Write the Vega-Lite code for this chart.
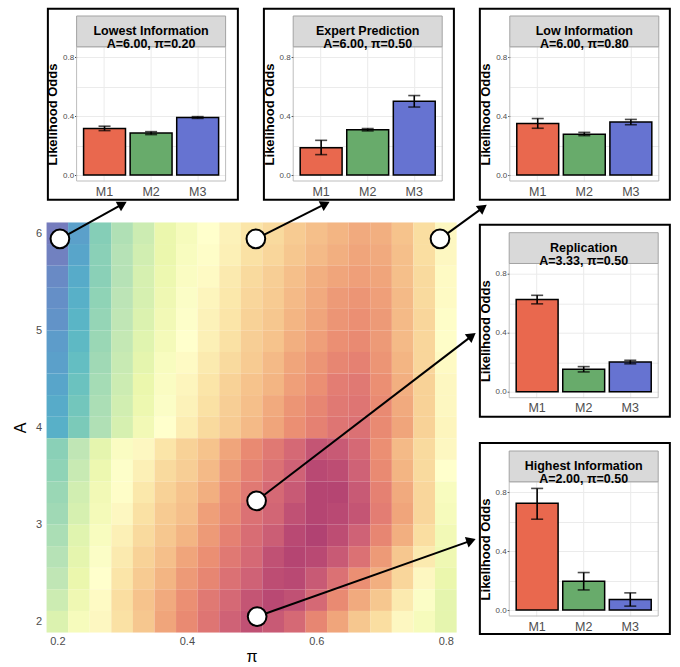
{
  "$schema": "https://vega.github.io/schema/vega-lite/v6.json",
  "padding": {"left": 8, "top": 7, "right": 0, "bottom": 0},
  "background": "white",
  "config": {"font": "Liberation Sans", "view": {"stroke": null}},
  "datasets": {
    "lowest": [
      {"model": "M1", "odds": 0.317, "lo": 0.302, "hi": 0.332},
      {"model": "M2", "odds": 0.285, "lo": 0.275, "hi": 0.295},
      {"model": "M3", "odds": 0.391, "lo": 0.385, "hi": 0.397}
    ],
    "expert": [
      {"model": "M1", "odds": 0.186, "lo": 0.139, "hi": 0.236},
      {"model": "M2", "odds": 0.308, "lo": 0.300, "hi": 0.316},
      {"model": "M3", "odds": 0.502, "lo": 0.462, "hi": 0.540}
    ],
    "low": [
      {"model": "M1", "odds": 0.350, "lo": 0.318, "hi": 0.384},
      {"model": "M2", "odds": 0.278, "lo": 0.268, "hi": 0.290},
      {"model": "M3", "odds": 0.360, "lo": 0.342, "hi": 0.378}
    ],
    "replication": [
      {"model": "M1", "odds": 0.626, "lo": 0.597, "hi": 0.655},
      {"model": "M2", "odds": 0.153, "lo": 0.135, "hi": 0.171},
      {"model": "M3", "odds": 0.203, "lo": 0.190, "hi": 0.214}
    ],
    "highest": [
      {"model": "M1", "odds": 0.725, "lo": 0.617, "hi": 0.826},
      {"model": "M2", "odds": 0.196, "lo": 0.137, "hi": 0.255},
      {"model": "M3", "odds": 0.072, "lo": 0.027, "hi": 0.117}
    ],
    "frames": [
      {"inset": "Lowest Information", "p0": 0.1853, "p1": 0.4788, "a0": 6.3449, "a1": 8.3126},
      {"inset": "Expert Prediction", "p0": 0.5190, "p1": 0.8125, "a0": 6.3449, "a1": 8.3126},
      {"inset": "Low Information", "p0": 0.8526, "p1": 1.1461, "a0": 6.3449, "a1": 8.3126},
      {"inset": "Replication", "p0": 0.8526, "p1": 1.1461, "a0": 4.1095, "a1": 6.0874},
      {"inset": "Highest Information", "p0": 0.8526, "p1": 1.1461, "a0": 1.8740, "a1": 3.8416}
    ],
    "arrows": [
      {"inset": "Lowest Information", "p0": 0.2039, "a0": 5.943, "p1": 0.3006, "a1": 6.300, "heading": -29},
      {"inset": "Expert Prediction", "p0": 0.5066, "a0": 5.943, "p1": 0.6140, "a1": 6.302, "heading": -27},
      {"inset": "Low Information", "p0": 0.7910, "a0": 5.943, "p1": 0.8573, "a1": 6.264, "heading": -36},
      {"inset": "Replication", "p0": 0.5077, "a0": 3.245, "p1": 0.8403, "a1": 4.944, "heading": -37.5},
      {"inset": "Highest Information", "p0": 0.5086, "a0": 2.053, "p1": 0.8392, "a1": 2.835, "heading": -19.6}
    ],
    "heat": [
      {"pi":0.2,"A":6,"info":0.02},{"pi":0.2333,"A":6,"info":0.10},{"pi":0.2667,"A":6,"info":0.20},{"pi":0.3,"A":6,"info":0.28},{"pi":0.3333,"A":6,"info":0.34},{"pi":0.3667,"A":6,"info":0.40},{"pi":0.4,"A":6,"info":0.45},{"pi":0.4333,"A":6,"info":0.50},{"pi":0.4667,"A":6,"info":0.55},{"pi":0.5,"A":6,"info":0.60},{"pi":0.5333,"A":6,"info":0.63},{"pi":0.5667,"A":6,"info":0.67},{"pi":0.6,"A":6,"info":0.70},{"pi":0.6333,"A":6,"info":0.72},{"pi":0.6667,"A":6,"info":0.74},{"pi":0.7,"A":6,"info":0.73},{"pi":0.7333,"A":6,"info":0.69},{"pi":0.7667,"A":6,"info":0.62},{"pi":0.8,"A":6,"info":0.53},
      {"pi":0.2,"A":5.7778,"info":0.03},{"pi":0.2333,"A":5.7778,"info":0.11},{"pi":0.2667,"A":5.7778,"info":0.21},{"pi":0.3,"A":5.7778,"info":0.29},{"pi":0.3333,"A":5.7778,"info":0.35},{"pi":0.3667,"A":5.7778,"info":0.40},{"pi":0.4,"A":5.7778,"info":0.46},{"pi":0.4333,"A":5.7778,"info":0.51},{"pi":0.4667,"A":5.7778,"info":0.56},{"pi":0.5,"A":5.7778,"info":0.61},{"pi":0.5333,"A":5.7778,"info":0.64},{"pi":0.5667,"A":5.7778,"info":0.68},{"pi":0.6,"A":5.7778,"info":0.71},{"pi":0.6333,"A":5.7778,"info":0.73},{"pi":0.6667,"A":5.7778,"info":0.75},{"pi":0.7,"A":5.7778,"info":0.74},{"pi":0.7333,"A":5.7778,"info":0.70},{"pi":0.7667,"A":5.7778,"info":0.62},{"pi":0.8,"A":5.7778,"info":0.53},
      {"pi":0.2,"A":5.5556,"info":0.05},{"pi":0.2333,"A":5.5556,"info":0.12},{"pi":0.2667,"A":5.5556,"info":0.21},{"pi":0.3,"A":5.5556,"info":0.29},{"pi":0.3333,"A":5.5556,"info":0.36},{"pi":0.3667,"A":5.5556,"info":0.41},{"pi":0.4,"A":5.5556,"info":0.47},{"pi":0.4333,"A":5.5556,"info":0.52},{"pi":0.4667,"A":5.5556,"info":0.58},{"pi":0.5,"A":5.5556,"info":0.63},{"pi":0.5333,"A":5.5556,"info":0.66},{"pi":0.5667,"A":5.5556,"info":0.70},{"pi":0.6,"A":5.5556,"info":0.73},{"pi":0.6333,"A":5.5556,"info":0.75},{"pi":0.6667,"A":5.5556,"info":0.76},{"pi":0.7,"A":5.5556,"info":0.75},{"pi":0.7333,"A":5.5556,"info":0.70},{"pi":0.7667,"A":5.5556,"info":0.63},{"pi":0.8,"A":5.5556,"info":0.52},
      {"pi":0.2,"A":5.3333,"info":0.06},{"pi":0.2333,"A":5.3333,"info":0.13},{"pi":0.2667,"A":5.3333,"info":0.22},{"pi":0.3,"A":5.3333,"info":0.30},{"pi":0.3333,"A":5.3333,"info":0.36},{"pi":0.3667,"A":5.3333,"info":0.42},{"pi":0.4,"A":5.3333,"info":0.48},{"pi":0.4333,"A":5.3333,"info":0.54},{"pi":0.4667,"A":5.3333,"info":0.59},{"pi":0.5,"A":5.3333,"info":0.64},{"pi":0.5333,"A":5.3333,"info":0.67},{"pi":0.5667,"A":5.3333,"info":0.71},{"pi":0.6,"A":5.3333,"info":0.74},{"pi":0.6333,"A":5.3333,"info":0.77},{"pi":0.6667,"A":5.3333,"info":0.78},{"pi":0.7,"A":5.3333,"info":0.76},{"pi":0.7333,"A":5.3333,"info":0.71},{"pi":0.7667,"A":5.3333,"info":0.63},{"pi":0.8,"A":5.3333,"info":0.52},
      {"pi":0.2,"A":5.1111,"info":0.07},{"pi":0.2333,"A":5.1111,"info":0.14},{"pi":0.2667,"A":5.1111,"info":0.23},{"pi":0.3,"A":5.1111,"info":0.31},{"pi":0.3333,"A":5.1111,"info":0.37},{"pi":0.3667,"A":5.1111,"info":0.43},{"pi":0.4,"A":5.1111,"info":0.49},{"pi":0.4333,"A":5.1111,"info":0.55},{"pi":0.4667,"A":5.1111,"info":0.60},{"pi":0.5,"A":5.1111,"info":0.65},{"pi":0.5333,"A":5.1111,"info":0.68},{"pi":0.5667,"A":5.1111,"info":0.72},{"pi":0.6,"A":5.1111,"info":0.75},{"pi":0.6333,"A":5.1111,"info":0.78},{"pi":0.6667,"A":5.1111,"info":0.79},{"pi":0.7,"A":5.1111,"info":0.77},{"pi":0.7333,"A":5.1111,"info":0.71},{"pi":0.7667,"A":5.1111,"info":0.64},{"pi":0.8,"A":5.1111,"info":0.51},
      {"pi":0.2,"A":4.8889,"info":0.09},{"pi":0.2333,"A":4.8889,"info":0.15},{"pi":0.2667,"A":4.8889,"info":0.24},{"pi":0.3,"A":4.8889,"info":0.32},{"pi":0.3333,"A":4.8889,"info":0.38},{"pi":0.3667,"A":4.8889,"info":0.44},{"pi":0.4,"A":4.8889,"info":0.50},{"pi":0.4333,"A":4.8889,"info":0.56},{"pi":0.4667,"A":4.8889,"info":0.61},{"pi":0.5,"A":4.8889,"info":0.66},{"pi":0.5333,"A":4.8889,"info":0.69},{"pi":0.5667,"A":4.8889,"info":0.73},{"pi":0.6,"A":4.8889,"info":0.76},{"pi":0.6333,"A":4.8889,"info":0.79},{"pi":0.6667,"A":4.8889,"info":0.80},{"pi":0.7,"A":4.8889,"info":0.77},{"pi":0.7333,"A":4.8889,"info":0.71},{"pi":0.7667,"A":4.8889,"info":0.64},{"pi":0.8,"A":4.8889,"info":0.51},
      {"pi":0.2,"A":4.6667,"info":0.10},{"pi":0.2333,"A":4.6667,"info":0.16},{"pi":0.2667,"A":4.6667,"info":0.25},{"pi":0.3,"A":4.6667,"info":0.33},{"pi":0.3333,"A":4.6667,"info":0.39},{"pi":0.3667,"A":4.6667,"info":0.46},{"pi":0.4,"A":4.6667,"info":0.52},{"pi":0.4333,"A":4.6667,"info":0.58},{"pi":0.4667,"A":4.6667,"info":0.63},{"pi":0.5,"A":4.6667,"info":0.67},{"pi":0.5333,"A":4.6667,"info":0.71},{"pi":0.5667,"A":4.6667,"info":0.75},{"pi":0.6,"A":4.6667,"info":0.78},{"pi":0.6333,"A":4.6667,"info":0.81},{"pi":0.6667,"A":4.6667,"info":0.82},{"pi":0.7,"A":4.6667,"info":0.78},{"pi":0.7333,"A":4.6667,"info":0.72},{"pi":0.7667,"A":4.6667,"info":0.64},{"pi":0.8,"A":4.6667,"info":0.52},
      {"pi":0.2,"A":4.4444,"info":0.11},{"pi":0.2333,"A":4.4444,"info":0.17},{"pi":0.2667,"A":4.4444,"info":0.26},{"pi":0.3,"A":4.4444,"info":0.34},{"pi":0.3333,"A":4.4444,"info":0.40},{"pi":0.3667,"A":4.4444,"info":0.47},{"pi":0.4,"A":4.4444,"info":0.54},{"pi":0.4333,"A":4.4444,"info":0.60},{"pi":0.4667,"A":4.4444,"info":0.65},{"pi":0.5,"A":4.4444,"info":0.69},{"pi":0.5333,"A":4.4444,"info":0.72},{"pi":0.5667,"A":4.4444,"info":0.76},{"pi":0.6,"A":4.4444,"info":0.79},{"pi":0.6333,"A":4.4444,"info":0.83},{"pi":0.6667,"A":4.4444,"info":0.84},{"pi":0.7,"A":4.4444,"info":0.79},{"pi":0.7333,"A":4.4444,"info":0.73},{"pi":0.7667,"A":4.4444,"info":0.65},{"pi":0.8,"A":4.4444,"info":0.53},
      {"pi":0.2,"A":4.2222,"info":0.12},{"pi":0.2333,"A":4.2222,"info":0.18},{"pi":0.2667,"A":4.2222,"info":0.27},{"pi":0.3,"A":4.2222,"info":0.35},{"pi":0.3333,"A":4.2222,"info":0.41},{"pi":0.3667,"A":4.2222,"info":0.48},{"pi":0.4,"A":4.2222,"info":0.55},{"pi":0.4333,"A":4.2222,"info":0.61},{"pi":0.4667,"A":4.2222,"info":0.66},{"pi":0.5,"A":4.2222,"info":0.70},{"pi":0.5333,"A":4.2222,"info":0.74},{"pi":0.5667,"A":4.2222,"info":0.78},{"pi":0.6,"A":4.2222,"info":0.81},{"pi":0.6333,"A":4.2222,"info":0.84},{"pi":0.6667,"A":4.2222,"info":0.85},{"pi":0.7,"A":4.2222,"info":0.80},{"pi":0.7333,"A":4.2222,"info":0.74},{"pi":0.7667,"A":4.2222,"info":0.65},{"pi":0.8,"A":4.2222,"info":0.53},
      {"pi":0.2,"A":4,"info":0.13},{"pi":0.2333,"A":4,"info":0.19},{"pi":0.2667,"A":4,"info":0.28},{"pi":0.3,"A":4,"info":0.36},{"pi":0.3333,"A":4,"info":0.43},{"pi":0.3667,"A":4,"info":0.50},{"pi":0.4,"A":4,"info":0.57},{"pi":0.4333,"A":4,"info":0.63},{"pi":0.4667,"A":4,"info":0.67},{"pi":0.5,"A":4,"info":0.71},{"pi":0.5333,"A":4,"info":0.75},{"pi":0.5667,"A":4,"info":0.79},{"pi":0.6,"A":4,"info":0.82},{"pi":0.6333,"A":4,"info":0.85},{"pi":0.6667,"A":4,"info":0.86},{"pi":0.7,"A":4,"info":0.80},{"pi":0.7333,"A":4,"info":0.75},{"pi":0.7667,"A":4,"info":0.65},{"pi":0.8,"A":4,"info":0.54},
      {"pi":0.2,"A":3.7778,"info":0.21},{"pi":0.2333,"A":3.7778,"info":0.31},{"pi":0.2667,"A":3.7778,"info":0.39},{"pi":0.3,"A":3.7778,"info":0.47},{"pi":0.3333,"A":3.7778,"info":0.53},{"pi":0.3667,"A":3.7778,"info":0.60},{"pi":0.4,"A":3.7778,"info":0.65},{"pi":0.4333,"A":3.7778,"info":0.69},{"pi":0.4667,"A":3.7778,"info":0.75},{"pi":0.5,"A":3.7778,"info":0.80},{"pi":0.5333,"A":3.7778,"info":0.84},{"pi":0.5667,"A":3.7778,"info":0.88},{"pi":0.6,"A":3.7778,"info":0.93},{"pi":0.6333,"A":3.7778,"info":0.92},{"pi":0.6667,"A":3.7778,"info":0.88},{"pi":0.7,"A":3.7778,"info":0.79},{"pi":0.7333,"A":3.7778,"info":0.71},{"pi":0.7667,"A":3.7778,"info":0.63},{"pi":0.8,"A":3.7778,"info":0.53},
      {"pi":0.2,"A":3.5556,"info":0.22},{"pi":0.2333,"A":3.5556,"info":0.33},{"pi":0.2667,"A":3.5556,"info":0.41},{"pi":0.3,"A":3.5556,"info":0.49},{"pi":0.3333,"A":3.5556,"info":0.56},{"pi":0.3667,"A":3.5556,"info":0.63},{"pi":0.4,"A":3.5556,"info":0.66},{"pi":0.4333,"A":3.5556,"info":0.71},{"pi":0.4667,"A":3.5556,"info":0.77},{"pi":0.5,"A":3.5556,"info":0.82},{"pi":0.5333,"A":3.5556,"info":0.86},{"pi":0.5667,"A":3.5556,"info":0.90},{"pi":0.6,"A":3.5556,"info":0.96},{"pi":0.6333,"A":3.5556,"info":0.95},{"pi":0.6667,"A":3.5556,"info":0.90},{"pi":0.7,"A":3.5556,"info":0.80},{"pi":0.7333,"A":3.5556,"info":0.72},{"pi":0.7667,"A":3.5556,"info":0.63},{"pi":0.8,"A":3.5556,"info":0.50},
      {"pi":0.2,"A":3.3333,"info":0.24},{"pi":0.2333,"A":3.3333,"info":0.35},{"pi":0.2667,"A":3.3333,"info":0.43},{"pi":0.3,"A":3.3333,"info":0.51},{"pi":0.3333,"A":3.3333,"info":0.59},{"pi":0.3667,"A":3.3333,"info":0.65},{"pi":0.4,"A":3.3333,"info":0.69},{"pi":0.4333,"A":3.3333,"info":0.73},{"pi":0.4667,"A":3.3333,"info":0.79},{"pi":0.5,"A":3.3333,"info":0.84},{"pi":0.5333,"A":3.3333,"info":0.88},{"pi":0.5667,"A":3.3333,"info":0.92},{"pi":0.6,"A":3.3333,"info":0.97},{"pi":0.6333,"A":3.3333,"info":0.97},{"pi":0.6667,"A":3.3333,"info":0.92},{"pi":0.7,"A":3.3333,"info":0.82},{"pi":0.7333,"A":3.3333,"info":0.74},{"pi":0.7667,"A":3.3333,"info":0.64},{"pi":0.8,"A":3.3333,"info":0.46},
      {"pi":0.2,"A":3.1111,"info":0.25},{"pi":0.2333,"A":3.1111,"info":0.36},{"pi":0.2667,"A":3.1111,"info":0.44},{"pi":0.3,"A":3.1111,"info":0.53},{"pi":0.3333,"A":3.1111,"info":0.61},{"pi":0.3667,"A":3.1111,"info":0.67},{"pi":0.4,"A":3.1111,"info":0.70},{"pi":0.4333,"A":3.1111,"info":0.76},{"pi":0.4667,"A":3.1111,"info":0.80},{"pi":0.5,"A":3.1111,"info":0.86},{"pi":0.5333,"A":3.1111,"info":0.89},{"pi":0.5667,"A":3.1111,"info":0.94},{"pi":0.6,"A":3.1111,"info":0.97},{"pi":0.6333,"A":3.1111,"info":0.96},{"pi":0.6667,"A":3.1111,"info":0.93},{"pi":0.7,"A":3.1111,"info":0.83},{"pi":0.7333,"A":3.1111,"info":0.75},{"pi":0.7667,"A":3.1111,"info":0.64},{"pi":0.8,"A":3.1111,"info":0.45},
      {"pi":0.2,"A":2.8889,"info":0.27},{"pi":0.2333,"A":2.8889,"info":0.38},{"pi":0.2667,"A":2.8889,"info":0.46},{"pi":0.3,"A":2.8889,"info":0.56},{"pi":0.3333,"A":2.8889,"info":0.63},{"pi":0.3667,"A":2.8889,"info":0.68},{"pi":0.4,"A":2.8889,"info":0.72},{"pi":0.4333,"A":2.8889,"info":0.77},{"pi":0.4667,"A":2.8889,"info":0.82},{"pi":0.5,"A":2.8889,"info":0.87},{"pi":0.5333,"A":2.8889,"info":0.91},{"pi":0.5667,"A":2.8889,"info":0.96},{"pi":0.6,"A":2.8889,"info":0.98},{"pi":0.6333,"A":2.8889,"info":0.95},{"pi":0.6667,"A":2.8889,"info":0.90},{"pi":0.7,"A":2.8889,"info":0.81},{"pi":0.7333,"A":2.8889,"info":0.73},{"pi":0.7667,"A":2.8889,"info":0.62},{"pi":0.8,"A":2.8889,"info":0.43},
      {"pi":0.2,"A":2.6667,"info":0.29},{"pi":0.2333,"A":2.6667,"info":0.39},{"pi":0.2667,"A":2.6667,"info":0.48},{"pi":0.3,"A":2.6667,"info":0.58},{"pi":0.3333,"A":2.6667,"info":0.65},{"pi":0.3667,"A":2.6667,"info":0.70},{"pi":0.4,"A":2.6667,"info":0.75},{"pi":0.4333,"A":2.6667,"info":0.79},{"pi":0.4667,"A":2.6667,"info":0.84},{"pi":0.5,"A":2.6667,"info":0.88},{"pi":0.5333,"A":2.6667,"info":0.94},{"pi":0.5667,"A":2.6667,"info":0.97},{"pi":0.6,"A":2.6667,"info":0.96},{"pi":0.6333,"A":2.6667,"info":0.92},{"pi":0.6667,"A":2.6667,"info":0.86},{"pi":0.7,"A":2.6667,"info":0.77},{"pi":0.7333,"A":2.6667,"info":0.68},{"pi":0.7667,"A":2.6667,"info":0.58},{"pi":0.8,"A":2.6667,"info":0.42},
      {"pi":0.2,"A":2.4444,"info":0.31},{"pi":0.2333,"A":2.4444,"info":0.40},{"pi":0.2667,"A":2.4444,"info":0.50},{"pi":0.3,"A":2.4444,"info":0.60},{"pi":0.3333,"A":2.4444,"info":0.67},{"pi":0.3667,"A":2.4444,"info":0.72},{"pi":0.4,"A":2.4444,"info":0.77},{"pi":0.4333,"A":2.4444,"info":0.81},{"pi":0.4667,"A":2.4444,"info":0.86},{"pi":0.5,"A":2.4444,"info":0.90},{"pi":0.5333,"A":2.4444,"info":0.95},{"pi":0.5667,"A":2.4444,"info":0.96},{"pi":0.6,"A":2.4444,"info":0.92},{"pi":0.6333,"A":2.4444,"info":0.86},{"pi":0.6667,"A":2.4444,"info":0.79},{"pi":0.7,"A":2.4444,"info":0.73},{"pi":0.7333,"A":2.4444,"info":0.64},{"pi":0.7667,"A":2.4444,"info":0.53},{"pi":0.8,"A":2.4444,"info":0.40},
      {"pi":0.2,"A":2.2222,"info":0.34},{"pi":0.2333,"A":2.2222,"info":0.42},{"pi":0.2667,"A":2.2222,"info":0.52},{"pi":0.3,"A":2.2222,"info":0.62},{"pi":0.3333,"A":2.2222,"info":0.69},{"pi":0.3667,"A":2.2222,"info":0.74},{"pi":0.4,"A":2.2222,"info":0.79},{"pi":0.4333,"A":2.2222,"info":0.84},{"pi":0.4667,"A":2.2222,"info":0.88},{"pi":0.5,"A":2.2222,"info":0.93},{"pi":0.5333,"A":2.2222,"info":0.96},{"pi":0.5667,"A":2.2222,"info":0.94},{"pi":0.6,"A":2.2222,"info":0.88},{"pi":0.6333,"A":2.2222,"info":0.80},{"pi":0.6667,"A":2.2222,"info":0.74},{"pi":0.7,"A":2.2222,"info":0.68},{"pi":0.7333,"A":2.2222,"info":0.58},{"pi":0.7667,"A":2.2222,"info":0.48},{"pi":0.8,"A":2.2222,"info":0.39},
      {"pi":0.2,"A":2,"info":0.37},{"pi":0.2333,"A":2,"info":0.45},{"pi":0.2667,"A":2,"info":0.53},{"pi":0.3,"A":2,"info":0.61},{"pi":0.3333,"A":2,"info":0.68},{"pi":0.3667,"A":2,"info":0.75},{"pi":0.4,"A":2,"info":0.80},{"pi":0.4333,"A":2,"info":0.85},{"pi":0.4667,"A":2,"info":0.90},{"pi":0.5,"A":2,"info":0.94},{"pi":0.5333,"A":2,"info":0.92},{"pi":0.5667,"A":2,"info":0.88},{"pi":0.6,"A":2,"info":0.81},{"pi":0.6333,"A":2,"info":0.75},{"pi":0.6667,"A":2,"info":0.68},{"pi":0.7,"A":2,"info":0.62},{"pi":0.7333,"A":2,"info":0.53},{"pi":0.7667,"A":2,"info":0.45},{"pi":0.8,"A":2,"info":0.39}
    ]
  },
  "bounds": "flush",
  "spacing": 206.5,
  "vconcat": [
    {
      "bounds": "flush",
      "spacing": 67.6,
      "hconcat": [
        {"width": 1, "height": 1, "data": {"values": []}, "mark": "point"},
        {
          "width": 149, "height": 165,
          "layer": [
            {
              "data": {"name": "lowest"},
              "encoding": {"x": {"field": "model", "type": "nominal", "scale": {"paddingInner": 0.1, "paddingOuter": 0.15}, "axis": {"title": null, "labelAngle": 0, "labelFontSize": 12.5, "labelColor": "#4d4d4d", "labelPadding": 4, "ticks": false, "domain": false, "grid": true, "gridColor": "#ebebeb"}}},
              "layer": [
                {"mark": {"type": "bar", "stroke": "black", "strokeWidth": 1.5}, "encoding": {"y": {"field": "odds", "type": "quantitative", "scale": {"domain": [-0.04, 1.08], "nice": false, "zero": false}, "axis": {"title": "Likelihood Odds", "titleFontSize": 13, "titleFontWeight": "bold", "titleColor": "black", "titleY": 98, "titlePadding": 3, "values": [0, 0.1, 0.2, 0.3, 0.4, 0.5, 0.6, 0.7, 0.8], "format": ".1f", "labelExpr": "datum.value == 0 || datum.value == 0.4 || datum.value == 0.8 ? datum.label : ''", "labelFontSize": 8, "labelColor": "#4d4d4d", "labelPadding": 1, "tickSize": 2, "tickColor": "#333333", "tickOpacity": {"condition": {"test": "datum.value == 0 || datum.value == 0.4 || datum.value == 0.8", "value": 1}, "value": 0}, "domain": false, "gridColor": "#ebebeb"}}, "color": {"field": "model", "type": "nominal", "scale": {"domain": ["M1", "M2", "M3"], "range": ["#e9684e", "#68ab6b", "#6673d1"]}, "legend": null}}},
                {"mark": {"type": "rule", "color": "black", "strokeWidth": 1.6}, "encoding": {"y": {"field": "lo", "type": "quantitative"}, "y2": {"field": "hi"}}},
                {"mark": {"type": "tick", "color": "black", "size": 12, "thickness": 1.6}, "encoding": {"y": {"field": "lo", "type": "quantitative"}}},
                {"mark": {"type": "tick", "color": "black", "size": 12, "thickness": 1.6}, "encoding": {"y": {"field": "hi", "type": "quantitative"}}}
              ]
            },
            {
              "data": {"values": [{"label": "Lowest Information\nA=6.00, π=0.20"}]},
              "layer": [
                {"mark": {"type": "rect", "fill": "transparent", "stroke": "#bdbdbd", "strokeWidth": 1}, "encoding": {"y": {"datum": -0.04}, "y2": {"datum": 0.871}}},
                {"mark": {"type": "rect", "fill": "#d9d9d9", "stroke": "#a3a3a3", "strokeWidth": 1}, "encoding": {"y": {"datum": 0.871}, "y2": {"datum": 1.08}}},
                {"mark": {"type": "text", "fontSize": 12.5, "fontWeight": "bold", "lineBreak": "\n", "lineHeight": 12.5, "baseline": "middle", "color": "black"}, "encoding": {"text": {"field": "label"}, "y": {"datum": 0.9755}}}
              ]
            }
          ]
        },
        {
          "width": 149, "height": 165,
          "layer": [
            {
              "data": {"name": "expert"},
              "encoding": {"x": {"field": "model", "type": "nominal", "scale": {"paddingInner": 0.1, "paddingOuter": 0.15}, "axis": {"title": null, "labelAngle": 0, "labelFontSize": 12.5, "labelColor": "#4d4d4d", "labelPadding": 4, "ticks": false, "domain": false, "grid": true, "gridColor": "#ebebeb"}}},
              "layer": [
                {"mark": {"type": "bar", "stroke": "black", "strokeWidth": 1.5}, "encoding": {"y": {"field": "odds", "type": "quantitative", "scale": {"domain": [-0.04, 1.08], "nice": false, "zero": false}, "axis": {"title": "Likelihood Odds", "titleFontSize": 13, "titleFontWeight": "bold", "titleColor": "black", "titleY": 98, "titlePadding": 3, "values": [0, 0.1, 0.2, 0.3, 0.4, 0.5, 0.6, 0.7, 0.8], "format": ".1f", "labelExpr": "datum.value == 0 || datum.value == 0.4 || datum.value == 0.8 ? datum.label : ''", "labelFontSize": 8, "labelColor": "#4d4d4d", "labelPadding": 1, "tickSize": 2, "tickColor": "#333333", "tickOpacity": {"condition": {"test": "datum.value == 0 || datum.value == 0.4 || datum.value == 0.8", "value": 1}, "value": 0}, "domain": false, "gridColor": "#ebebeb"}}, "color": {"field": "model", "type": "nominal", "scale": {"domain": ["M1", "M2", "M3"], "range": ["#e9684e", "#68ab6b", "#6673d1"]}, "legend": null}}},
                {"mark": {"type": "rule", "color": "black", "strokeWidth": 1.6}, "encoding": {"y": {"field": "lo", "type": "quantitative"}, "y2": {"field": "hi"}}},
                {"mark": {"type": "tick", "color": "black", "size": 12, "thickness": 1.6}, "encoding": {"y": {"field": "lo", "type": "quantitative"}}},
                {"mark": {"type": "tick", "color": "black", "size": 12, "thickness": 1.6}, "encoding": {"y": {"field": "hi", "type": "quantitative"}}}
              ]
            },
            {
              "data": {"values": [{"label": "Expert Prediction\nA=6.00, π=0.50"}]},
              "layer": [
                {"mark": {"type": "rect", "fill": "transparent", "stroke": "#bdbdbd", "strokeWidth": 1}, "encoding": {"y": {"datum": -0.04}, "y2": {"datum": 0.871}}},
                {"mark": {"type": "rect", "fill": "#d9d9d9", "stroke": "#a3a3a3", "strokeWidth": 1}, "encoding": {"y": {"datum": 0.871}, "y2": {"datum": 1.08}}},
                {"mark": {"type": "text", "fontSize": 12.5, "fontWeight": "bold", "lineBreak": "\n", "lineHeight": 12.5, "baseline": "middle", "color": "black"}, "encoding": {"text": {"field": "label"}, "y": {"datum": 0.9755}}}
              ]
            }
          ]
        },
        {
          "width": 149, "height": 165,
          "layer": [
            {
              "data": {"name": "low"},
              "encoding": {"x": {"field": "model", "type": "nominal", "scale": {"paddingInner": 0.1, "paddingOuter": 0.15}, "axis": {"title": null, "labelAngle": 0, "labelFontSize": 12.5, "labelColor": "#4d4d4d", "labelPadding": 4, "ticks": false, "domain": false, "grid": true, "gridColor": "#ebebeb"}}},
              "layer": [
                {"mark": {"type": "bar", "stroke": "black", "strokeWidth": 1.5}, "encoding": {"y": {"field": "odds", "type": "quantitative", "scale": {"domain": [-0.04, 1.08], "nice": false, "zero": false}, "axis": {"title": "Likelihood Odds", "titleFontSize": 13, "titleFontWeight": "bold", "titleColor": "black", "titleY": 98, "titlePadding": 3, "values": [0, 0.1, 0.2, 0.3, 0.4, 0.5, 0.6, 0.7, 0.8], "format": ".1f", "labelExpr": "datum.value == 0 || datum.value == 0.4 || datum.value == 0.8 ? datum.label : ''", "labelFontSize": 8, "labelColor": "#4d4d4d", "labelPadding": 1, "tickSize": 2, "tickColor": "#333333", "tickOpacity": {"condition": {"test": "datum.value == 0 || datum.value == 0.4 || datum.value == 0.8", "value": 1}, "value": 0}, "domain": false, "gridColor": "#ebebeb"}}, "color": {"field": "model", "type": "nominal", "scale": {"domain": ["M1", "M2", "M3"], "range": ["#e9684e", "#68ab6b", "#6673d1"]}, "legend": null}}},
                {"mark": {"type": "rule", "color": "black", "strokeWidth": 1.6}, "encoding": {"y": {"field": "lo", "type": "quantitative"}, "y2": {"field": "hi"}}},
                {"mark": {"type": "tick", "color": "black", "size": 12, "thickness": 1.6}, "encoding": {"y": {"field": "lo", "type": "quantitative"}}},
                {"mark": {"type": "tick", "color": "black", "size": 12, "thickness": 1.6}, "encoding": {"y": {"field": "hi", "type": "quantitative"}}}
              ]
            },
            {
              "data": {"values": [{"label": "Low Information\nA=6.00, π=0.80"}]},
              "layer": [
                {"mark": {"type": "rect", "fill": "transparent", "stroke": "#bdbdbd", "strokeWidth": 1}, "encoding": {"y": {"datum": -0.04}, "y2": {"datum": 0.871}}},
                {"mark": {"type": "rect", "fill": "#d9d9d9", "stroke": "#a3a3a3", "strokeWidth": 1}, "encoding": {"y": {"datum": 0.871}, "y2": {"datum": 1.08}}},
                {"mark": {"type": "text", "fontSize": 12.5, "fontWeight": "bold", "lineBreak": "\n", "lineHeight": 12.5, "baseline": "middle", "color": "black"}, "encoding": {"text": {"field": "label"}, "y": {"datum": 0.9755}}}
              ]
            }
          ]
        }
      ]
    },
    {
      "bounds": "flush",
      "spacing": 37.6,
      "hconcat": [
        {"width": 1, "height": 1, "data": {"values": []}, "mark": "point"},
        {
          "bounds": "flush",
          "spacing": 52.6,
          "hconcat": [
            {
              "width": 410, "height": 410,
              "layer": [
                {
                  "data": {"name": "heat"},
                  "mark": {"type": "square", "size": 469, "opacity": 1, "strokeWidth": 0},
                  "encoding": {
                    "x": {"field": "pi", "type": "quantitative", "scale": {"domain": [0.18333, 0.81667], "nice": false, "zero": false}, "axis": {"title": "π", "titleFontSize": 16, "titleFontWeight": "normal", "titleColor": "black", "titlePadding": 2, "values": [0.2, 0.4, 0.6, 0.8], "format": ".1f", "labelFontSize": 11, "labelColor": "#4d4d4d", "labelPadding": 3, "ticks": false, "domain": false, "grid": false}},
                    "y": {"field": "A", "type": "quantitative", "scale": {"domain": [1.88889, 6.11111], "nice": false, "zero": false}, "axis": {"title": "A", "titleFontSize": 16, "titleFontWeight": "normal", "titleColor": "black", "titlePadding": 7, "values": [2, 3, 4, 5, 6], "format": "d", "labelFontSize": 11, "labelColor": "#4d4d4d", "labelPadding": 5, "ticks": false, "domain": false, "grid": false}},
                    "color": {"field": "info", "type": "quantitative", "scale": {"domain": [0, 0.1, 0.2, 0.3, 0.4, 0.5, 0.6, 0.7, 0.8, 0.9, 1], "range": ["#7e72b5", "#5ba0ca", "#85ceb7", "#bce4b6", "#ebf7ad", "#ffffcc", "#fbe5a8", "#f5bf8a", "#e98a72", "#cf6276", "#a83a71"]}, "legend": null}
                  }
                },
                {
                  "data": {"name": "frames"},
                  "mark": {"type": "rect", "fill": "transparent", "stroke": "black", "strokeWidth": 2, "clip": false},
                  "encoding": {
                    "x": {"field": "p0", "type": "quantitative", "scale": {"domain": [0.18333, 0.81667], "nice": false, "zero": false}},
                    "x2": {"field": "p1"},
                    "y": {"field": "a0", "type": "quantitative", "scale": {"domain": [1.88889, 6.11111], "nice": false, "zero": false}},
                    "y2": {"field": "a1"}
                  }
                },
                {
                  "data": {"name": "arrows"},
                  "mark": {"type": "rule", "color": "black", "strokeWidth": 2, "clip": false},
                  "encoding": {
                    "x": {"field": "p0", "type": "quantitative", "scale": {"domain": [0.18333, 0.81667], "nice": false, "zero": false}},
                    "x2": {"field": "p1"},
                    "y": {"field": "a0", "type": "quantitative", "scale": {"domain": [1.88889, 6.11111], "nice": false, "zero": false}},
                    "y2": {"field": "a1"}
                  }
                },
                {
                  "data": {"name": "arrows"},
                  "mark": {"type": "point", "shape": "triangle-right", "filled": true, "color": "black", "opacity": 1, "size": 120, "clip": false},
                  "encoding": {
                    "x": {"field": "p1", "type": "quantitative", "scale": {"domain": [0.18333, 0.81667], "nice": false, "zero": false}},
                    "y": {"field": "a1", "type": "quantitative", "scale": {"domain": [1.88889, 6.11111], "nice": false, "zero": false}},
                    "angle": {"field": "heading", "type": "quantitative", "scale": null}
                  }
                },
                {
                  "data": {"name": "arrows"},
                  "mark": {"type": "circle", "size": 350, "fill": "white", "stroke": "black", "strokeWidth": 2, "opacity": 1, "clip": false},
                  "encoding": {
                    "x": {"field": "p0", "type": "quantitative", "scale": {"domain": [0.18333, 0.81667], "nice": false, "zero": false}},
                    "y": {"field": "a0", "type": "quantitative", "scale": {"domain": [1.88889, 6.11111], "nice": false, "zero": false}}
                  }
                }
              ]
            },
            {
              "bounds": "flush",
              "spacing": 9.2,
              "vconcat": [
                {"width": 1, "height": 1, "data": {"values": []}, "mark": "point"},
                {
                  "bounds": "flush",
                  "spacing": 53.3,
                  "vconcat": [
                    {
                      "width": 149, "height": 165,
                      "layer": [
                        {
                          "data": {"name": "replication"},
                          "encoding": {"x": {"field": "model", "type": "nominal", "scale": {"paddingInner": 0.1, "paddingOuter": 0.15}, "axis": {"title": null, "labelAngle": 0, "labelFontSize": 12.5, "labelColor": "#4d4d4d", "labelPadding": 4, "ticks": false, "domain": false, "grid": true, "gridColor": "#ebebeb"}}},
                          "layer": [
                            {"mark": {"type": "bar", "stroke": "black", "strokeWidth": 1.5}, "encoding": {"y": {"field": "odds", "type": "quantitative", "scale": {"domain": [-0.04, 1.08], "nice": false, "zero": false}, "axis": {"title": "Likelihood Odds", "titleFontSize": 13, "titleFontWeight": "bold", "titleColor": "black", "titleY": 98, "titlePadding": 3, "values": [0, 0.1, 0.2, 0.3, 0.4, 0.5, 0.6, 0.7, 0.8], "format": ".1f", "labelExpr": "datum.value == 0 || datum.value == 0.4 || datum.value == 0.8 ? datum.label : ''", "labelFontSize": 8, "labelColor": "#4d4d4d", "labelPadding": 1, "tickSize": 2, "tickColor": "#333333", "tickOpacity": {"condition": {"test": "datum.value == 0 || datum.value == 0.4 || datum.value == 0.8", "value": 1}, "value": 0}, "domain": false, "gridColor": "#ebebeb"}}, "color": {"field": "model", "type": "nominal", "scale": {"domain": ["M1", "M2", "M3"], "range": ["#e9684e", "#68ab6b", "#6673d1"]}, "legend": null}}},
                            {"mark": {"type": "rule", "color": "black", "strokeWidth": 1.6}, "encoding": {"y": {"field": "lo", "type": "quantitative"}, "y2": {"field": "hi"}}},
                            {"mark": {"type": "tick", "color": "black", "size": 12, "thickness": 1.6}, "encoding": {"y": {"field": "lo", "type": "quantitative"}}},
                            {"mark": {"type": "tick", "color": "black", "size": 12, "thickness": 1.6}, "encoding": {"y": {"field": "hi", "type": "quantitative"}}}
                          ]
                        },
                        {
                          "data": {"values": [{"label": "Replication\nA=3.33, π=0.50"}]},
                          "layer": [
                            {"mark": {"type": "rect", "fill": "transparent", "stroke": "#bdbdbd", "strokeWidth": 1}, "encoding": {"y": {"datum": -0.04}, "y2": {"datum": 0.871}}},
                            {"mark": {"type": "rect", "fill": "#d9d9d9", "stroke": "#a3a3a3", "strokeWidth": 1}, "encoding": {"y": {"datum": 0.871}, "y2": {"datum": 1.08}}},
                            {"mark": {"type": "text", "fontSize": 12.5, "fontWeight": "bold", "lineBreak": "\n", "lineHeight": 12.5, "baseline": "middle", "color": "black"}, "encoding": {"text": {"field": "label"}, "y": {"datum": 0.9755}}}
                          ]
                        }
                      ]
                    },
                    {
                      "width": 149, "height": 165,
                      "layer": [
                        {
                          "data": {"name": "highest"},
                          "encoding": {"x": {"field": "model", "type": "nominal", "scale": {"paddingInner": 0.1, "paddingOuter": 0.15}, "axis": {"title": null, "labelAngle": 0, "labelFontSize": 12.5, "labelColor": "#4d4d4d", "labelPadding": 4, "ticks": false, "domain": false, "grid": true, "gridColor": "#ebebeb"}}},
                          "layer": [
                            {"mark": {"type": "bar", "stroke": "black", "strokeWidth": 1.5}, "encoding": {"y": {"field": "odds", "type": "quantitative", "scale": {"domain": [-0.04, 1.08], "nice": false, "zero": false}, "axis": {"title": "Likelihood Odds", "titleFontSize": 13, "titleFontWeight": "bold", "titleColor": "black", "titleY": 98, "titlePadding": 3, "values": [0, 0.1, 0.2, 0.3, 0.4, 0.5, 0.6, 0.7, 0.8], "format": ".1f", "labelExpr": "datum.value == 0 || datum.value == 0.4 || datum.value == 0.8 ? datum.label : ''", "labelFontSize": 8, "labelColor": "#4d4d4d", "labelPadding": 1, "tickSize": 2, "tickColor": "#333333", "tickOpacity": {"condition": {"test": "datum.value == 0 || datum.value == 0.4 || datum.value == 0.8", "value": 1}, "value": 0}, "domain": false, "gridColor": "#ebebeb"}}, "color": {"field": "model", "type": "nominal", "scale": {"domain": ["M1", "M2", "M3"], "range": ["#e9684e", "#68ab6b", "#6673d1"]}, "legend": null}}},
                            {"mark": {"type": "rule", "color": "black", "strokeWidth": 1.6}, "encoding": {"y": {"field": "lo", "type": "quantitative"}, "y2": {"field": "hi"}}},
                            {"mark": {"type": "tick", "color": "black", "size": 12, "thickness": 1.6}, "encoding": {"y": {"field": "lo", "type": "quantitative"}}},
                            {"mark": {"type": "tick", "color": "black", "size": 12, "thickness": 1.6}, "encoding": {"y": {"field": "hi", "type": "quantitative"}}}
                          ]
                        },
                        {
                          "data": {"values": [{"label": "Highest Information\nA=2.00, π=0.50"}]},
                          "layer": [
                            {"mark": {"type": "rect", "fill": "transparent", "stroke": "#bdbdbd", "strokeWidth": 1}, "encoding": {"y": {"datum": -0.04}, "y2": {"datum": 0.871}}},
                            {"mark": {"type": "rect", "fill": "#d9d9d9", "stroke": "#a3a3a3", "strokeWidth": 1}, "encoding": {"y": {"datum": 0.871}, "y2": {"datum": 1.08}}},
                            {"mark": {"type": "text", "fontSize": 12.5, "fontWeight": "bold", "lineBreak": "\n", "lineHeight": 12.5, "baseline": "middle", "color": "black"}, "encoding": {"text": {"field": "label"}, "y": {"datum": 0.9755}}}
                          ]
                        }
                      ]
                    }
                  ]
                }
              ]
            }
          ]
        }
      ]
    }
  ]
}
